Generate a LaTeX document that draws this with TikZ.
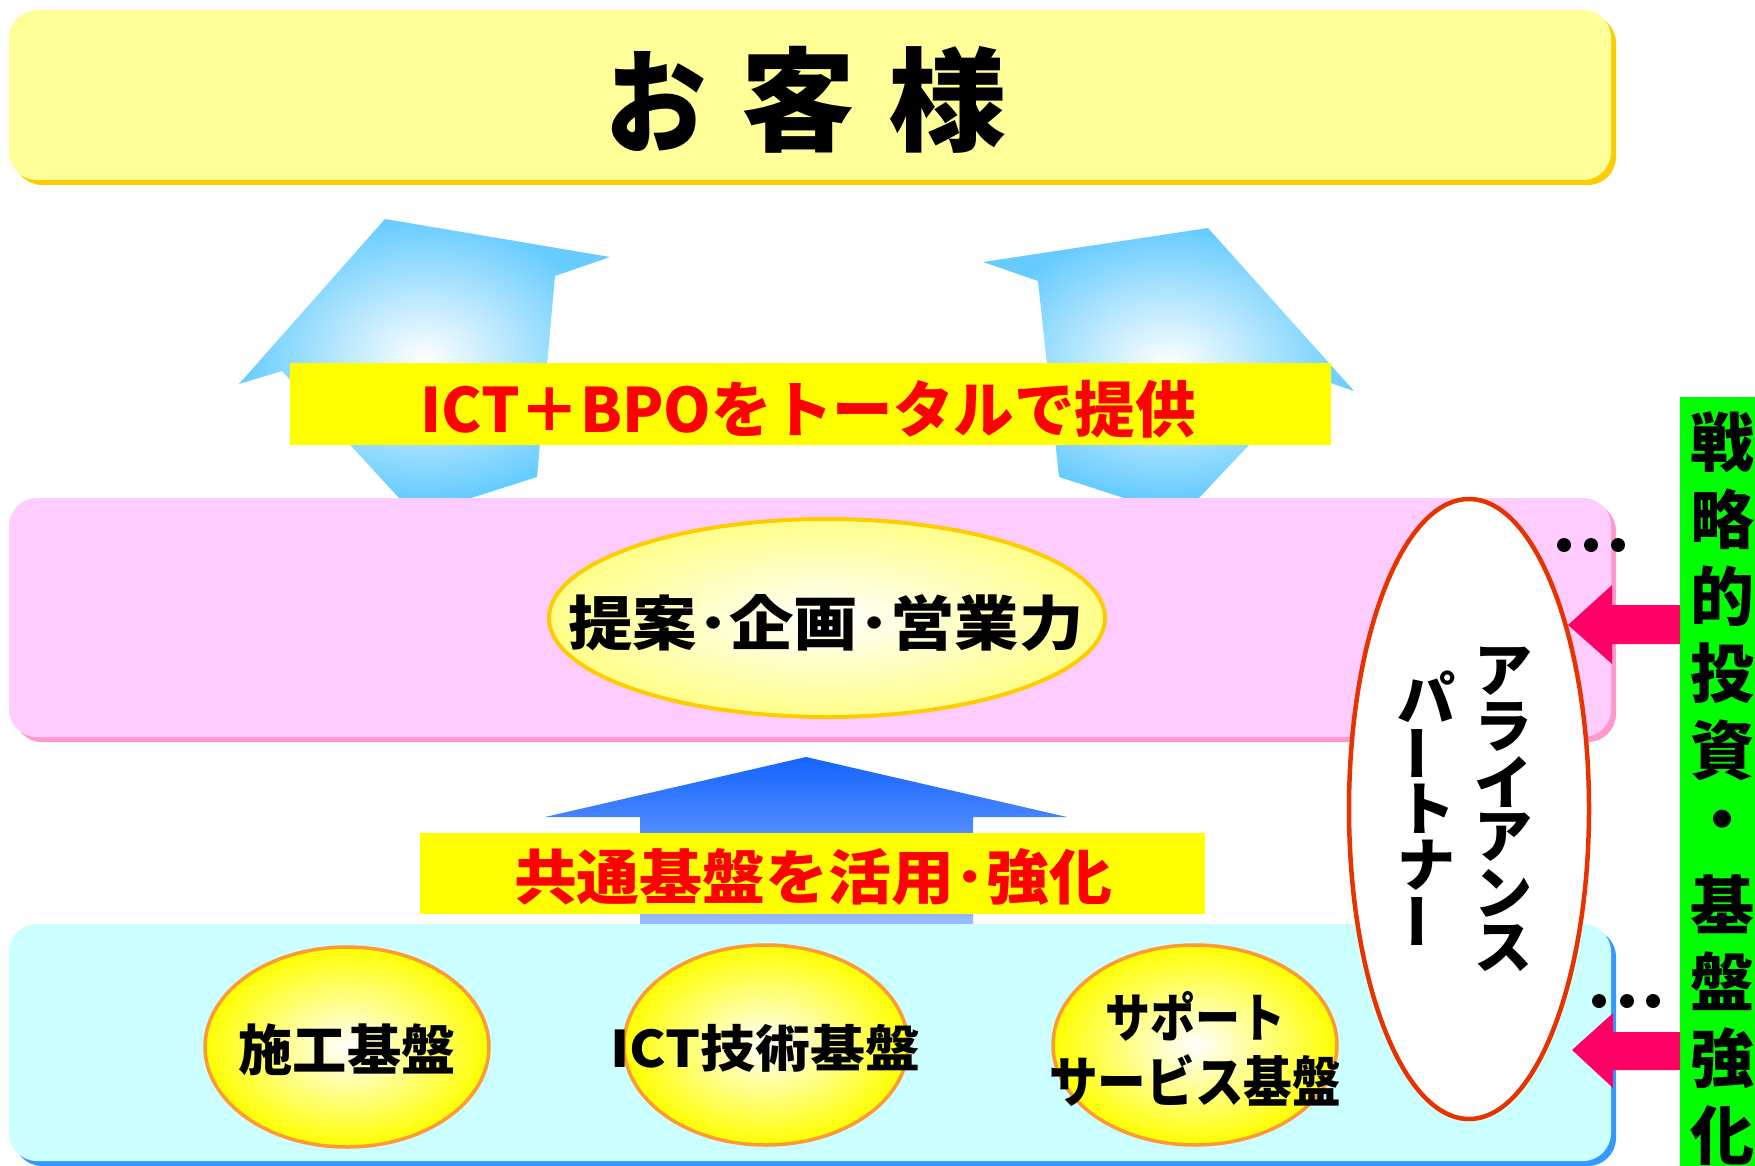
\documentclass[tikz,border=0pt]{standalone}
\usepackage{fontspec}
\usepackage{graphicx}
\IfFontExistsTF{Noto Sans CJK JP Black}
  {\newfontfamily\jp{Noto Sans CJK JP}[BoldFont={Noto Sans CJK JP Black}]}
  {\newfontfamily\jp{Noto Sans CJK JP}}
\usetikzlibrary{shapes.geometric}
\definecolor{topfill}{HTML}{FFFF99}
\definecolor{topshadow}{HTML}{FFCC00}
\definecolor{pinkfill}{HTML}{FFCCFF}
\definecolor{pinkshadow}{HTML}{FF99CC}
\definecolor{cyanfill}{HTML}{CCFFFF}
\definecolor{cyanshadow}{HTML}{3399FF}
\definecolor{lblue}{HTML}{66CCFF}
\definecolor{labelyellow}{HTML}{FFFF00}
\definecolor{labelred}{HTML}{FF0000}
\definecolor{goldline}{HTML}{FFCC00}
\definecolor{paleyellow}{HTML}{FFFF88}
\definecolor{orangeline}{HTML}{FF9933}
\definecolor{allred}{HTML}{E63300}
\definecolor{hotpink}{HTML}{FF0066}
\definecolor{brightgreen}{HTML}{00FF00}
\definecolor{arrowtop}{HTML}{1464FF}
\definecolor{arrowbot}{HTML}{9CBEFF}
\newcommand\fitjp[3]{\resizebox*{#1pt}{#2pt}{\jp\bfseries #3}}
\newcommand\jpsz[2]{{\fontsize{#1pt}{#1pt}\selectfont\jp\bfseries #2}}
\newcommand\vbar{\rotatebox{90}{ー}}
\begin{document}
\begin{tikzpicture}[x=1pt,y=-1pt,
  txt/.style={inner sep=0pt, outer sep=0pt},
  panel/.style={rounded corners=28pt, inner sep=0pt, outer sep=0pt},
  labelbox/.style={fill=labelyellow, inner sep=0pt, outer sep=0pt},
  baseoval/.style={ellipse, draw=orangeline, line width=3.5pt, inner color=white, outer color=labelyellow,
     minimum width=284pt, minimum height=200pt, inner sep=0pt},
  dot/.style={circle, fill=black, minimum size=14pt, inner sep=0pt}]
\useasboundingbox (0,0) rectangle (1755,1166);

% light blue bent arrows
\shade[inner color=white, outer color=lblue]
  (400,499) -- (282,371) -- (239,384) -- (385,219) -- (610,257) -- (555,276) -- (537,477) -- (468,499) -- cycle;
\shade[inner color=white, outer color=lblue]
  (1127,499) -- (1059,477) -- (1038,281) -- (983,262) -- (1208,228) -- (1354,391) -- (1313,377) -- (1198,499) -- cycle;

% label 1
\node[labelbox, minimum width=1041pt, minimum height=82pt] (lab1) at (810.5,404) {};
\node[txt] (lab1t) at (808,409) {\color{labelred}\fitjp{775}{58}{ICT＋BPOをトータルで提供}};

% top box
\node[panel, fill=topshadow, minimum width=1602pt, minimum height=170pt] (topsh) at (815,100) {};
\node[panel, fill=topfill, minimum width=1602pt, minimum height=170pt] (top) at (810,95) {};
\node[txt] (c1) at (656,101) {\fitjp{101}{100}{お}};
\node[txt] (c2) at (798,100) {\fitjp{114}{107}{客}};
\node[txt] (c3) at (947,100) {\fitjp{118}{107}{様}};

% pink box
\node[panel, fill=pinkshadow, minimum width=1602pt, minimum height=239pt] (pinksh) at (815,622.5) {};
\node[panel, fill=pinkfill, minimum width=1602pt, minimum height=239pt] (pink) at (810,617.5) {};
\node[ellipse, draw=goldline, line width=4pt, inner color=white, outer color=paleyellow,
      minimum width=556pt, minimum height=198pt, inner sep=0pt] (sales) at (827,618) {};
\node[txt] (salest) at (826,623) {\fitjp{515}{57}{提案･企画･営業力}};

% blue arrow
\shade[top color=arrowtop, bottom color=arrowbot]
  (806,757) -- (1067,817) -- (973,817) -- (973,926) -- (640,926) -- (640,817) -- (545,817) -- cycle;

% label 2
\node[labelbox, minimum width=785pt, minimum height=81pt] (lab2) at (812.5,873.5) {};
\node[txt] (lab2t) at (813,877) {\color{labelred}\fitjp{598}{57}{共通基盤を活用･強化}};

% cyan box
\node[panel, fill=cyanshadow, minimum width=1602pt, minimum height=237pt] (cyansh) at (815,1047.5) {};
\node[panel, fill=cyanfill, minimum width=1602pt, minimum height=237pt] (cyan) at (810,1042.5) {};

\node[baseoval] (b1) at (347,1047) {};
\node[baseoval] (b2) at (766,1045) {};
\node[baseoval] (b3) at (1195,1045) {};
\node[txt] (b1t) at (347,1050) {\fitjp{217}{52}{施工基盤}};
\node[txt] (b2t) at (765,1048) {\fitjp{310}{48}{ICT技術基盤}};
\node[txt] (b3t) at (1195,1016) {\fitjp{180}{50}{サポート}};
\node[txt] (b3u) at (1195,1080) {\fitjp{292}{52}{サービス基盤}};

% alliance partner
\node[ellipse, draw=allred, fill=white, line width=4.5pt, minimum width=240pt, minimum height=620pt, inner sep=0pt] (ally) at (1469,809) {};
\foreach \c [count=\i] in {ア,ラ,イ,ア,ン,ス}
  \node[txt] (a\i) at (1503,{671+55.5*(\i-1)}) {\jpsz{58}{\c}};
\foreach \c [count=\i] in {パ,\vbar,ト,ナ,\vbar}
  \node[txt] (p\i) at (1426,{697+56*(\i-1)}) {\jpsz{58}{\c}};

% dots
\foreach \x [count=\i] in {1564,1591,1618}
  \node[dot] (du\i) at (\x,545) {};
\foreach \x [count=\i] in {1599,1627,1653}
  \node[dot] (dl\i) at (\x,1001) {};

% green bar
\node[fill=brightgreen, minimum width=75pt, minimum height=769pt, inner sep=0pt, outer sep=0pt] (bar) at (1717.5,781.5) {};
\foreach \c [count=\i] in {戦,略,的,投,資,・,基,盤,強,化}
  \node[txt] (g\i) at (1722,{442+77*(\i-1)}) {\jpsz{64}{\c}};

% pink arrows
\fill[hotpink] (1568,625) -- (1612,585) -- (1612,605) -- (bar.west |- 0,605) -- (bar.west |- 0,644) -- (1612,644) -- (1612,664) -- cycle;
\fill[hotpink] (1572,1050) -- (1613,1013) -- (1613,1032) -- (bar.west |- 0,1032) -- (bar.west |- 0,1070) -- (1613,1070) -- (1613,1088) -- cycle;
\end{tikzpicture}
\end{document}
